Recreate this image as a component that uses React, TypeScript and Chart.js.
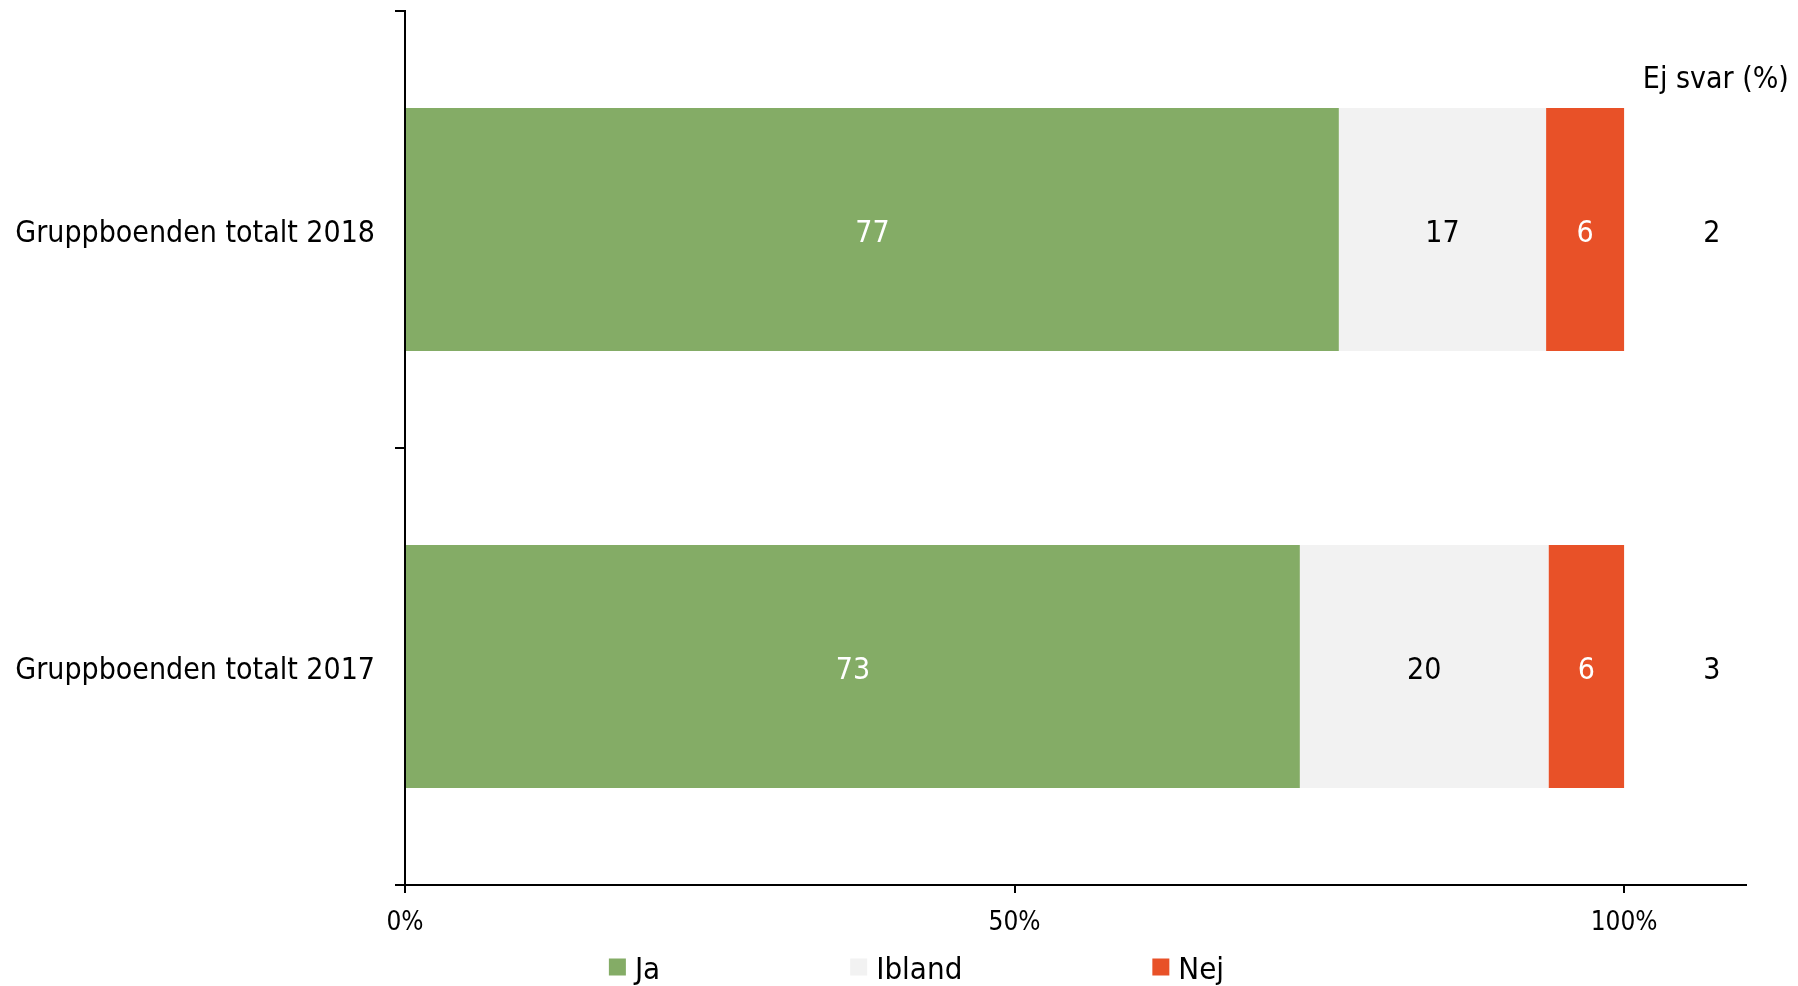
import React, { useEffect, useRef } from "react";
import { Chart, registerables } from "chart.js";

Chart.register(...registerables);

const categories = ["Gruppboenden totalt 2018", "Gruppboenden totalt 2017"];
const seriesNames = ["Ja", "Ibland", "Nej"];
const jaValues = [76.6, 73.4];
const iblandValues = [17.0, 20.4];
const nejValues = [6.4, 6.2];
const ejSvarValues = [2, 3];
const ejSvarTitle = "Ej svar (%)";
const xTickValues = [0, 50, 100];
const xMax = 110;
const ejSvarColumnValue = 107.2;

const seriesColors = ["#84AC66", "#F2F2F2", "#E85128"];
const valueLabelColors = ["#FFFFFF", "#000000", "#FFFFFF"];
const FONT = "'DejaVu Sans Condensed', 'DejaVu Sans', sans-serif";
const TEXT_DY = 5;

const valueLabelPlugin = {
  id: "valueLabels",
  afterDatasetsDraw(chart: any) {
    const ctx = chart.ctx;
    ctx.save();
    ctx.font = `30px ${FONT}`;
    ctx.textAlign = "center";
    ctx.textBaseline = "middle";
    chart.data.datasets.forEach((ds: any, i: number) => {
      const meta = chart.getDatasetMeta(i);
      meta.data.forEach((el: any, j: number) => {
        const v = ds.data[j];
        const cx = (el.x + el.base) / 2;
        ctx.fillStyle = valueLabelColors[i];
        ctx.fillText(String(Math.round(v)), cx, el.y + TEXT_DY);
      });
    });
    const xs = chart.scales.x;
    const ys = chart.scales.y;
    const colX = xs.getPixelForValue(ejSvarColumnValue);
    ctx.fillStyle = "#000000";
    ejSvarValues.forEach((v, j) => {
      ctx.fillText(String(v), colX, ys.getPixelForValue(j) + TEXT_DY);
    });
    ctx.font = `30px ${FONT}`;
    ctx.fillText(ejSvarTitle, colX + 4, ys.top + 69);
    ctx.restore();
  },
};

const legendPlugin = {
  id: "customLegend",
  afterDraw(chart: any) {
    const ctx = chart.ctx;
    ctx.save();
    ctx.font = `31px ${FONT}`;
    ctx.textBaseline = "middle";
    ctx.textAlign = "left";
    const box = 17;
    const boxGap = 8;
    const itemGap = 191;
    const widths = seriesNames.map((n) => box + boxGap + ctx.measureText(n).width);
    const total = widths.reduce((a, b) => a + b, 0) + itemGap * (seriesNames.length - 1);
    let x = chart.width / 2 + 17 - total / 2;
    const y = chart.height - 18;
    seriesNames.forEach((n, i) => {
      ctx.fillStyle = seriesColors[i];
      ctx.fillRect(x, y - box / 2 - 1, box, box);
      ctx.fillStyle = "#000000";
      ctx.fillText(n, x + box + boxGap + 1, y + 3);
      x += widths[i] + itemGap;
    });
    ctx.restore();
  },
};

export default function App() {
  const canvasRef = useRef<HTMLCanvasElement | null>(null);

  useEffect(() => {
    if (!canvasRef.current) return;
    const valueSets = [jaValues, iblandValues, nejValues];
    const chart = new Chart(canvasRef.current, {
      type: "bar",
      data: {
        labels: categories,
        datasets: seriesNames.map((name, i) => ({
          label: name,
          data: valueSets[i],
          backgroundColor: seriesColors[i],
          borderWidth: 0,
          categoryPercentage: 0.556,
          barPercentage: 1,
        })),
      },
      options: {
        indexAxis: "y",
        animation: false,
        responsive: true,
        maintainAspectRatio: false,
        layout: { padding: { left: 0, right: 52, top: 11, bottom: 51 } },
        scales: {
          x: {
            stacked: true,
            min: 0,
            max: xMax,
            afterBuildTicks: (scale: any) => {
              scale.ticks = xTickValues.map((v) => ({ value: v }));
            },
            afterFit: (scale: any) => {
              scale.height = 50;
              scale.paddingLeft = 0;
              scale.paddingRight = 0;
            },
            ticks: {
              callback: (v: any) => `${v}%`,
              color: "#000000",
              font: { family: FONT, size: 26 },
              padding: 15,
              maxRotation: 0,
            },
            grid: {
              drawOnChartArea: false,
              drawTicks: true,
              tickLength: 8,
              color: "#000000",
              lineWidth: 2,
            },
            border: { display: true, color: "#000000", width: 2 },
          },
          y: {
            stacked: true,
            offset: true,
            afterFit: (scale: any) => {
              scale.width = 405;
              scale.paddingTop = 0;
              scale.paddingBottom = 0;
            },
            ticks: {
              color: "#000000",
              font: { family: FONT, size: 30 },
              padding: 20,
              labelOffset: TEXT_DY,
            },
            grid: {
              offset: true,
              drawOnChartArea: false,
              drawTicks: true,
              tickLength: 10,
              color: "#000000",
              lineWidth: 2,
            },
            border: { display: true, color: "#000000", width: 2 },
          },
        },
        plugins: {
          legend: { display: false },
          tooltip: { enabled: false },
        },
      },
      plugins: [valueLabelPlugin, legendPlugin],
    });
    return () => chart.destroy();
  }, []);

  return (
    <div style={{ position: "fixed", left: 0, top: 0, width: 1798, height: 986, background: "#ffffff" }}>
      <canvas ref={canvasRef} />
    </div>
  );
}
